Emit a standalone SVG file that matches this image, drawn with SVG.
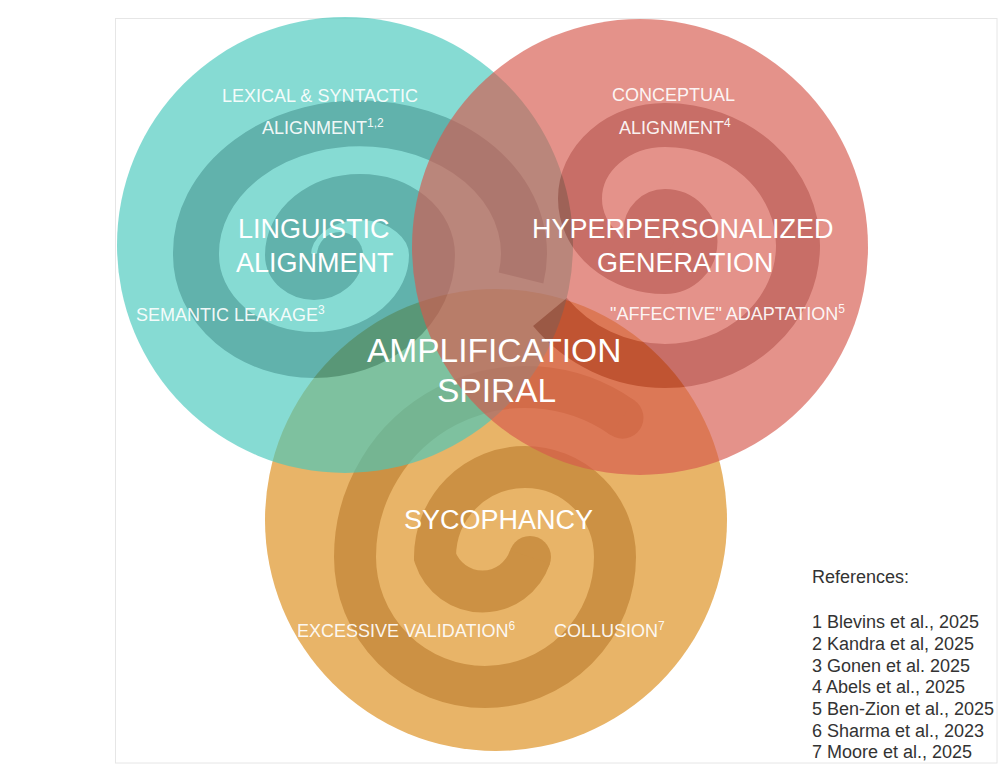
<svg xmlns="http://www.w3.org/2000/svg" width="1000" height="765" viewBox="0 0 1000 765">
<style>
.lbl{font-family:"Liberation Sans",Arial,Helvetica,sans-serif;fill:#ffffff}
.small{font-size:18px;fill-opacity:0.93}
.big{font-size:27px}
.amp{font-size:33.5px}
.sup{font-size:12px}
.ref{font-family:"Liberation Sans",Arial,Helvetica,sans-serif;font-size:18px;fill:#333333}
.spiral{fill:none;stroke-linecap:butt}
</style>
<rect width="1000" height="765" fill="#ffffff"/>
<rect x="115.5" y="18.5" width="881.5" height="744.5" fill="none" stroke="#e6e6e6"/>
<g id="sycophancy-circle">
  <circle cx="496" cy="520" r="231" fill="#e8b468"/>
  <circle cx="530" cy="557" r="21" fill="#cc9144"/>
  <circle cx="622.5" cy="417.7" r="21" fill="#cc9144"/>
  <path class="spiral" stroke="#cc9144" stroke-width="42" d="M530 557 A50 50 0 0 1 435 557 A90 90 0 0 1 615 557 A130 130 0 0 1 355 557 A170 170 0 0 1 622.5 417.7"/>
</g>
<g id="linguistic-circle" opacity="0.65">
  <circle cx="345" cy="245" r="228" fill="#47c9bd"/>
  <circle cx="340" cy="255" r="23" fill="#0e8980"/>
  <path class="spiral" stroke="#0e8980" stroke-width="46" d="M340 255 A26 22 0 0 1 288 255 A72 58 0 0 1 432 255 A118 100 0 0 1 196 255 A164 130 0 1 1 521 278"/>
</g>
<g id="hyper-circle" opacity="0.65">
  <circle cx="640" cy="247" r="228" fill="#d7594d"/>
  <circle cx="665" cy="250" r="20" fill="#ab2216"/>
  <path class="spiral" stroke="#ab2216" stroke-width="44" d="M665 250 A19.5 19.5 0 0 1 665 211 A30.5 30.5 0 0 1 665 272 A85 73.5 0 0 1 665 125 A133 120.5 0 0 1 665 366 A150 150 0 0 1 550 312"/>
</g>
<g id="linguistic">
  <text class="lbl small" x="222" y="102">LEXICAL &amp; SYNTACTIC</text>
  <text class="lbl small" x="262" y="134">ALIGNMENT<tspan class="sup" dy="-7">1,2</tspan></text>
  <text class="lbl big" x="238" y="238">LINGUISTIC</text>
  <text class="lbl big" x="236" y="272">ALIGNMENT</text>
  <text class="lbl small" x="136" y="321">SEMANTIC LEAKAGE<tspan class="sup" dy="-7">3</tspan></text>
</g>
<g id="hyperpersonalized">
  <text class="lbl small" x="612" y="101">CONCEPTUAL</text>
  <text class="lbl small" x="619" y="134">ALIGNMENT<tspan class="sup" dy="-7">4</tspan></text>
  <text class="lbl big" x="532" y="238">HYPERPERSONALIZED</text>
  <text class="lbl big" x="597" y="272">GENERATION</text>
  <text class="lbl small" x="610" y="320">"AFFECTIVE" ADAPTATION<tspan class="sup" dy="-7">5</tspan></text>
</g>
<g id="amplification">
  <text class="lbl amp" x="367" y="362">AMPLIFICATION</text>
  <text class="lbl amp" x="437" y="402">SPIRAL</text>
</g>
<g id="sycophancy">
  <text class="lbl big" x="404" y="529">SYCOPHANCY</text>
  <text class="lbl small" x="297" y="637">EXCESSIVE VALIDATION<tspan class="sup" dy="-7">6</tspan></text>
  <text class="lbl small" x="554" y="637">COLLUSION<tspan class="sup" dy="-7">7</tspan></text>
</g>
<g id="references">
  <text class="ref" x="812" y="583">References:</text>
  <text class="ref" x="812" y="628">1 Blevins et al., 2025</text>
  <text class="ref" x="812" y="650">2 Kandra et al, 2025</text>
  <text class="ref" x="812" y="672">3 Gonen et al. 2025</text>
  <text class="ref" x="812" y="693">4 Abels et al., 2025</text>
  <text class="ref" x="812" y="715">5 Ben-Zion et al., 2025</text>
  <text class="ref" x="812" y="737">6 Sharma et al., 2023</text>
  <text class="ref" x="812" y="758">7 Moore et al., 2025</text>
</g>
</svg>
